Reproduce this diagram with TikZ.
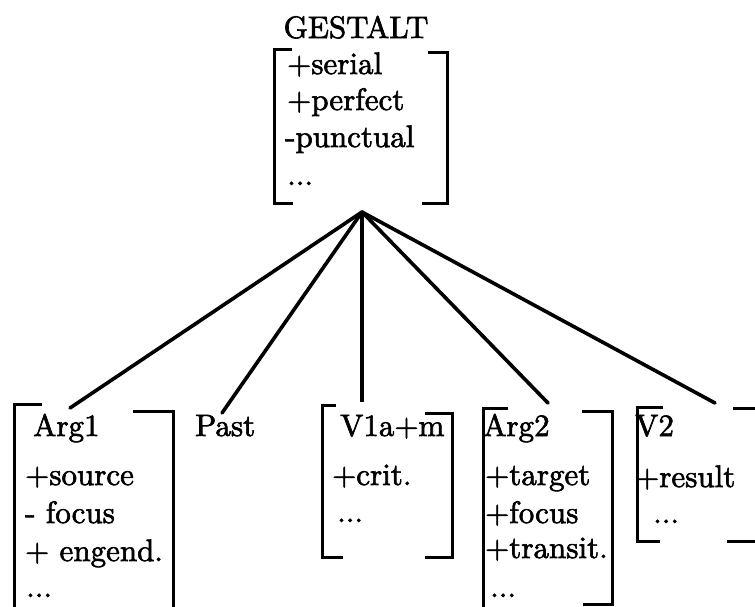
\documentclass[tikz,border=0pt]{standalone}
\usepackage{fontspec}
\setmainfont{lmroman10-regular.otf}[FakeBold=2]
\begin{document}
\begin{tikzpicture}[x=1pt,y=-1pt,
  lbl/.style={inner sep=0pt, anchor=base west, font=\fontsize{31}{37}\selectfont},
  brk/.style={line width=3pt, line cap=butt, line join=miter},
  conn/.style={line width=3.6pt, line cap=round}]
\useasboundingbox (0,0) rectangle (755,606);
\clip (0,0) rectangle (755,606);
% top feature structure
\node[lbl, anchor=base] (gestalt) at (356,38) {GESTALT};
\node[lbl] (serial) at (287,74) {+serial};
\node[lbl] (perfect) at (287,110) {+perfect};
\node[lbl] (punct) at (285,147) {-punctual};
\node[lbl] (tdots) at (287,185) {...};
\draw[brk] (292,49) -- (274,49) -- (274,203) -- (293,203);
\draw[brk] (428,52) -- (447,52) -- (447,203) -- (422,203);
\coordinate (apex) at (362,212);
% Arg1
\node[lbl] (arg1) at (33,436) {Arg1};
\node[lbl] (source) at (25,485) {+source};
\node[lbl] (focus1) at (25,523) {- focus};
\node[lbl] (engend) at (25,561) {+ engend.};
\node[lbl] (dots1) at (26,597) {...};
\draw[brk] (42,404) -- (14,404) -- (14,615);
\draw[brk] (133,411) -- (173,411) -- (173,615);
% Past
\node[lbl] (past) at (195,436) {Past};
% V1a+m
\node[lbl] (v1am) at (340,436) {V1a+m};
\node[lbl] (crit) at (332,485) {+crit.};
\node[lbl] (dots3) at (337,522) {...};
\draw[brk] (336,405) -- (322,405) -- (322,557) -- (343,557);
\draw[brk] (425,413) -- (452,413) -- (452,557) -- (425,557);
% Arg2
\node[lbl] (arg2) at (483,436) {Arg2};
\node[lbl] (target) at (485,485) {+target};
\node[lbl] (focus2) at (485,523) {+focus};
\node[lbl] (transit) at (485,558) {+transit.};
\node[lbl] (dots4) at (490,597) {...};
\draw[brk] (508,408) -- (483,408) -- (483,615);
\draw[brk] (582,411) -- (612,411) -- (612,604) -- (583,604);
% V2
\node[lbl] (v2) at (635,436) {V2};
\node[lbl] (result) at (635,487) {+result};
\node[lbl] (dots5) at (653,523) {...};
\draw[brk] (663,407) -- (637,407) -- (637,541) -- (660,541);
\draw[brk] (733,408) -- (758,408) -- (758,541) -- (727,541);
% connector ends
\coordinate (e1) at (70,408);
\coordinate (e2) at (222,413);
\coordinate (e3) at (362,402);
\coordinate (e4) at (548,403);
\coordinate (e5) at (715,403);
\draw[conn] (apex) -- (e1);
\draw[conn] (apex) -- (e2);
\draw[conn, line cap=butt] (apex) -- (e3);
\draw[conn] (apex) -- (e4);
\draw[conn] (apex) -- (e5);
\end{tikzpicture}
\end{document}
